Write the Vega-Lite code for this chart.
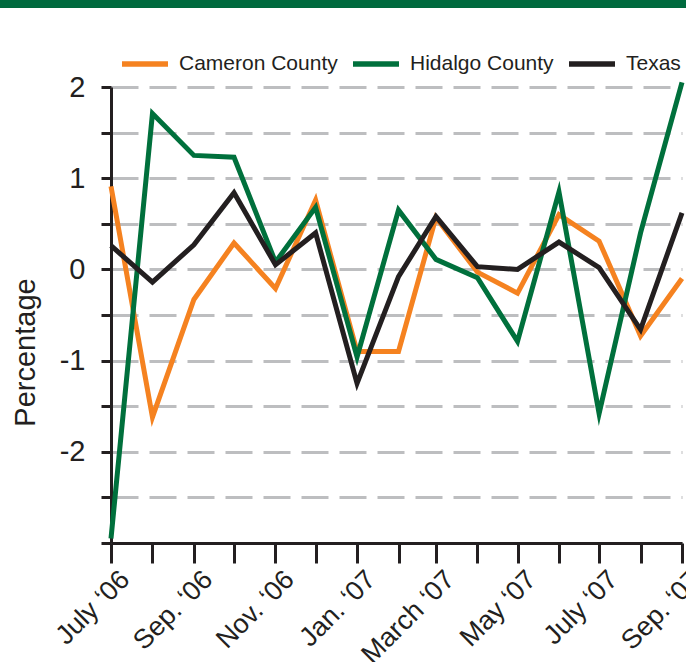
{
  "$schema": "https://vega.github.io/schema/vega-lite/v6.json",
  "autosize": "none",
  "padding": {"left": 111, "top": 87, "right": 4, "bottom": 119},
  "width": 571,
  "height": 456,
  "background": "white",
  "config": {
    "view": {"stroke": null},
    "font": "Liberation Sans",
    "axis": {"titleFontWeight": "normal"}
  },
  "data": {
    "format": {"parse": {"month": "utc:'%Y-%m-%d'"}},
    "values": [
      {"month": "2006-07-01", "series": "Cameron County", "value": 0.91},
      {"month": "2006-08-01", "series": "Cameron County", "value": -1.62},
      {"month": "2006-09-01", "series": "Cameron County", "value": -0.33},
      {"month": "2006-10-01", "series": "Cameron County", "value": 0.29},
      {"month": "2006-11-01", "series": "Cameron County", "value": -0.21},
      {"month": "2006-12-01", "series": "Cameron County", "value": 0.76},
      {"month": "2007-01-01", "series": "Cameron County", "value": -0.9},
      {"month": "2007-02-01", "series": "Cameron County", "value": -0.9},
      {"month": "2007-03-01", "series": "Cameron County", "value": 0.57},
      {"month": "2007-04-01", "series": "Cameron County", "value": -0.03},
      {"month": "2007-05-01", "series": "Cameron County", "value": -0.26},
      {"month": "2007-06-01", "series": "Cameron County", "value": 0.6},
      {"month": "2007-07-01", "series": "Cameron County", "value": 0.31},
      {"month": "2007-08-01", "series": "Cameron County", "value": -0.73},
      {"month": "2007-09-01", "series": "Cameron County", "value": -0.1},
      {"month": "2006-07-01", "series": "Hidalgo County", "value": -2.95},
      {"month": "2006-08-01", "series": "Hidalgo County", "value": 1.71},
      {"month": "2006-09-01", "series": "Hidalgo County", "value": 1.25},
      {"month": "2006-10-01", "series": "Hidalgo County", "value": 1.23},
      {"month": "2006-11-01", "series": "Hidalgo County", "value": 0.08},
      {"month": "2006-12-01", "series": "Hidalgo County", "value": 0.68},
      {"month": "2007-01-01", "series": "Hidalgo County", "value": -0.96},
      {"month": "2007-02-01", "series": "Hidalgo County", "value": 0.65},
      {"month": "2007-03-01", "series": "Hidalgo County", "value": 0.11},
      {"month": "2007-04-01", "series": "Hidalgo County", "value": -0.09},
      {"month": "2007-05-01", "series": "Hidalgo County", "value": -0.79},
      {"month": "2007-06-01", "series": "Hidalgo County", "value": 0.85},
      {"month": "2007-07-01", "series": "Hidalgo County", "value": -1.58},
      {"month": "2007-08-01", "series": "Hidalgo County", "value": 0.4},
      {"month": "2007-09-01", "series": "Hidalgo County", "value": 2.05},
      {"month": "2006-07-01", "series": "Texas", "value": 0.26},
      {"month": "2006-08-01", "series": "Texas", "value": -0.14},
      {"month": "2006-09-01", "series": "Texas", "value": 0.27},
      {"month": "2006-10-01", "series": "Texas", "value": 0.84},
      {"month": "2006-11-01", "series": "Texas", "value": 0.05},
      {"month": "2006-12-01", "series": "Texas", "value": 0.4},
      {"month": "2007-01-01", "series": "Texas", "value": -1.25},
      {"month": "2007-02-01", "series": "Texas", "value": -0.08},
      {"month": "2007-03-01", "series": "Texas", "value": 0.58},
      {"month": "2007-04-01", "series": "Texas", "value": 0.03},
      {"month": "2007-05-01", "series": "Texas", "value": 0.0},
      {"month": "2007-06-01", "series": "Texas", "value": 0.3},
      {"month": "2007-07-01", "series": "Texas", "value": 0.02},
      {"month": "2007-08-01", "series": "Texas", "value": -0.66},
      {"month": "2007-09-01", "series": "Texas", "value": 0.62}
    ]
  },
  "layer": [
    {
      "mark": {"type": "rect", "color": "#006A3E", "clip": false},
      "encoding": {
        "x": {"datum": {"year": 2005, "month": 1, "date": 1, "utc": true}, "type": "temporal"},
        "x2": {"datum": {"year": 2009, "month": 1, "date": 1, "utc": true}},
        "y": {"datum": 3.5, "type": "quantitative"},
        "y2": {"datum": 2.875}
      }
    },
    {
      "mark": {"type": "line", "strokeWidth": 5, "strokeJoin": "miter", "strokeMiterLimit": 10, "clip": false},
      "encoding": {
        "x": {
          "field": "month",
          "type": "temporal",
          "scale": {
            "type": "utc",
            "domain": [
              {"year": 2006, "month": 7, "date": 1, "utc": true},
              {"year": 2007, "month": 9, "date": 1, "utc": true}
            ]
          },
          "axis": {
            "title": null,
            "grid": false,
            "values": [
              {"year": 2006, "month": 7, "date": 1, "utc": true},
              {"year": 2006, "month": 8, "date": 1, "utc": true},
              {"year": 2006, "month": 9, "date": 1, "utc": true},
              {"year": 2006, "month": 10, "date": 1, "utc": true},
              {"year": 2006, "month": 11, "date": 1, "utc": true},
              {"year": 2006, "month": 12, "date": 1, "utc": true},
              {"year": 2007, "month": 1, "date": 1, "utc": true},
              {"year": 2007, "month": 2, "date": 1, "utc": true},
              {"year": 2007, "month": 3, "date": 1, "utc": true},
              {"year": 2007, "month": 4, "date": 1, "utc": true},
              {"year": 2007, "month": 5, "date": 1, "utc": true},
              {"year": 2007, "month": 6, "date": 1, "utc": true},
              {"year": 2007, "month": 7, "date": 1, "utc": true},
              {"year": 2007, "month": 8, "date": 1, "utc": true},
              {"year": 2007, "month": 9, "date": 1, "utc": true}
            ],
            "labelExpr": "utcmonth(datum.value) % 2 == 0 ? ['Jan.','','March','','May','','July','','Sep.','','Nov.',''][utcmonth(datum.value)] + ' \u2018' + utcFormat(datum.value, '%y') : ''",
            "labelOverlap": false,
            "labelBound": false,
            "labelFlush": false,
            "labelAngle": -45,
            "labelAlign": "right",
            "labelBaseline": "middle",
            "labelFontSize": 27,
            "labelColor": "#231F20",
            "labelPadding": 12,
            "labelOffset": 14,
            "tickSize": 20,
            "tickWidth": 3,
            "tickColor": "#231F20",
            "domainColor": "#231F20",
            "domainWidth": 3
          }
        },
        "y": {
          "field": "value",
          "type": "quantitative",
          "scale": {"domain": [-3, 2], "nice": false, "zero": false},
          "axis": {
            "title": "Percentage",
            "titleFontSize": 29,
            "titleColor": "#231F20",
            "titleAngle": -90,
            "titleX": -77,
            "titleY": 265,
            "titleAlign": "center",
            "titleBaseline": "alphabetic",
            "values": [-3, -2.5, -2, -1.5, -1, -0.5, 0, 0.5, 1, 1.5, 2],
            "labelExpr": "datum.value % 1 == 0 && datum.value > -3 ? '' + datum.value : ''",
            "labelFontSize": 29,
            "labelColor": "#231F20",
            "labelPadding": 16,
            "tickSize": 10,
            "tickWidth": 3,
            "tickColor": "#231F20",
            "domainColor": "#231F20",
            "domainWidth": 3,
            "grid": true,
            "gridColor": "#BDBEC0",
            "gridWidth": 3,
            "gridDash": [27, 11]
          }
        },
        "color": {
          "field": "series",
          "type": "nominal",
          "scale": {
            "domain": ["Cameron County", "Hidalgo County", "Texas"],
            "range": ["#F58220", "#00703C", "#231F20"]
          },
          "legend": {
            "title": null,
            "orient": "none",
            "legendX": 8,
            "legendY": -49,
            "direction": "horizontal",
            "symbolType": "stroke",
            "symbolSize": 2116,
            "symbolStrokeWidth": 5.5,
            "labelFontSize": 21,
            "labelColor": "#231F20",
            "labelOffset": 8,
            "columnPadding": 4,
            "padding": 0
          }
        }
      }
    }
  ]
}
